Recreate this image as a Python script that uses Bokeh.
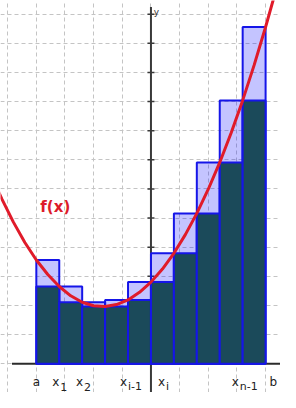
from bokeh.plotting import figure
from bokeh.models import Range1d, Grid, FixedTicker, ColumnDataSource
from bokeh.core.properties import value
from bokeh.embed import file_html
from bokeh.resources import INLINE

# ---- data ----
bar_left = [-4.0, -3.2, -2.4, -1.6, -0.8, 0.0, 0.8, 1.6, 2.4, 3.2]
bar_right = [-3.2, -2.4, -1.6, -0.8, 0.0, 0.8, 1.6, 2.4, 3.2, 4.0]
upper_sum = [3.56, 2.65, 2.11, 2.19, 2.80, 3.79, 5.16, 6.91, 9.04, 11.56]
lower_sum = [2.65, 2.11, 1.96, 1.96, 2.19, 2.80, 3.79, 5.16, 6.91, 9.04]

curve_x = [-5.6, -5.2, -4.8, -4.4, -4.0, -3.6, -3.2, -2.8, -2.4, -2.0, -1.6, -1.2, -0.8,
           -0.4, 0.0, 0.4, 0.8, 1.2, 1.6, 2.0, 2.4, 2.8, 3.2, 3.6, 4.0, 4.4]
curve_y = [6.53, 5.65, 4.86, 4.16, 3.56, 3.06, 2.65, 2.33, 2.11, 1.99, 1.96, 2.03, 2.19,
           2.45, 2.80, 3.25, 3.79, 4.43, 5.16, 5.99, 6.91, 7.93, 9.04, 10.25, 11.56, 12.96]

label_pos = [-4.0, -3.2, -2.4, -0.8, 0.0, 3.2, 4.0]
label_main = ["a", "x", "x", "x", "x", "x", "b"]
label_sub = ["", "1", "2", "i-1", "i", "n-1", ""]

x_grid = [-5, -4, -3, -2, -1, 0, 1, 2, 3, 4]
y_grid = [-1, 0, 1, 2, 3, 4, 5, 6, 7, 8, 9, 10, 11, 12]
y_ticks = [1, 2, 3, 4, 5, 6, 7, 8, 9, 10, 11, 12]

X_MIN, X_MAX = -5.25, 4.52
Y_MIN, Y_MAX = -0.99, 12.47

# ---- figure ----
p = figure(width=280, height=392, x_range=Range1d(X_MIN, X_MAX), y_range=Range1d(Y_MIN, Y_MAX),
           x_axis_type=None, y_axis_type=None, toolbar_location=None,
           output_backend="svg", min_border=0)
p.outline_line_color = None
p.background_fill_color = "white"

for dim, ticks in ((0, x_grid), (1, y_grid)):
    g = Grid(dimension=dim, ticker=FixedTicker(ticks=ticks))
    g.grid_line_color = "#c4c4c4"
    g.grid_line_dash = "4 3"
    g.grid_line_width = 1
    p.add_layout(g)

# axes lines
p.segment(x0=[X_MIN + 0.4], y0=[0], x1=[X_MAX], y1=[0], line_color="#2b2b2b", line_width=2)
p.segment(x0=[0], y0=[Y_MIN], x1=[0], y1=[12.25], line_color="#3a3a3a", line_width=2)
p.scatter(x=[0] * len(y_ticks), y=y_ticks, marker="dash", size=7, line_color="#3a3a3a", line_width=1.5)

# bars
src = ColumnDataSource(dict(left=bar_left, right=bar_right, up=upper_sum, lo=lower_sum))
p.quad(left="left", right="right", bottom=0, top="up", source=src,
       fill_color="#0000ff", fill_alpha=0.23, line_color="#1515e8", line_width=2)
p.quad(left="left", right="right", bottom=0, top="lo", source=src,
       fill_color="#1b4a5a", line_color="#1515e8", line_width=2)

# curve
p.line(curve_x, curve_y, line_color="#e01b2a", line_width=3)

# labels
main_off = [-3.5, -7.0, -6.2, -8.0, 7.0, -10.8, 4.0]
sub_off = [o + 8.0 for o in main_off]
lab = ColumnDataSource(dict(x=label_pos, main=label_main, sub=label_sub,
                            yo=[-0.63] * len(label_pos), ys=[-0.79] * len(label_pos),
                            mo=main_off, so=sub_off))
p.text(x="x", y="yo", text="main", x_offset="mo", source=lab, text_font=value("DejaVu Sans"),
       text_font_size="12px", text_color="#222222", text_align="left", text_baseline="alphabetic")
p.text(x="x", y="ys", text="sub", x_offset="so", source=lab, text_font=value("DejaVu Sans"),
       text_font_size="11px", text_color="#222222", text_align="left", text_baseline="alphabetic")

p.text(x=[0.1], y=[12.08], text=["y"], text_font=value("DejaVu Sans"), text_font_size="9px",
       text_color="#333333", text_align="left", text_baseline="alphabetic")
p.text(x=[-3.86], y=[5.38], text=["f(x)"], text_font=value("DejaVu Sans"), text_font_size="15px",
       text_font_style="bold", text_color="#dd1c2a", text_align="left", text_baseline="alphabetic")

open("out.html", "w").write(file_html(p, INLINE))
